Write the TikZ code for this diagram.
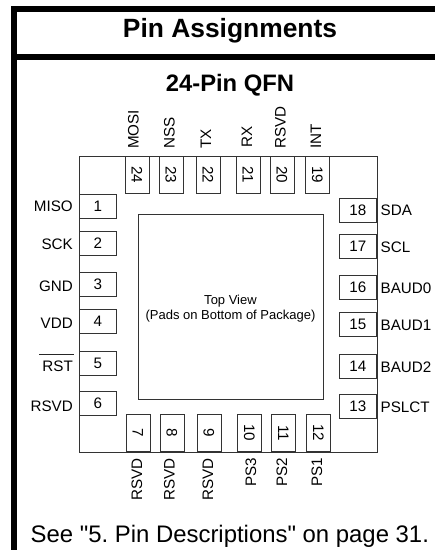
\documentclass[tikz,border=0pt]{standalone}
\usepackage{fontspec}
\setmainfont[Ligatures=TeXOff]{Liberation Sans}
\frenchspacing
\tikzset{
  pinbox/.style={draw=black!80,line width=0.9pt,fill=white,rectangle,inner sep=0pt,anchor=north west,font=\fontsize{15.2}{17}\selectfont},
  hpin/.style={pinbox,minimum width=37pt,minimum height=24pt},
  vpin/.style={pinbox,minimum width=24pt,minimum height=37pt},
  lbl/.style={inner sep=0pt,font=\fontsize{15.2}{17}\selectfont},
  bar/.style={fill=black,draw=none,rectangle,inner sep=0pt,anchor=north west},
}
\newcommand{\hp}[3]{\node[hpin] (p#1) at (#2,#3) {#1};}
\newcommand{\vp}[3]{\node[vpin] (p#1) at (#2,#3) {\rotatebox{-90}{#1}};}
\begin{document}
\begin{tikzpicture}[x=1pt,y=-1pt]
\useasboundingbox (0,0) rectangle (435,550);
\node[bar,minimum width=6pt,minimum height=544pt] (leftbar) at (11,6) {};
\node[bar,minimum width=424pt,minimum height=6pt] (topbar) at (11,6) {};
\node[bar,minimum width=424pt,minimum height=6pt] (midbar) at (11,54) {};
\node[inner sep=0pt,anchor=base,font=\bfseries\fontsize{26.4}{30}\selectfont] (title) at (230,37) {Pin Assignments};
\node[inner sep=0pt,anchor=base,font=\bfseries\fontsize{23.8}{27}\selectfont] (sub) at (230,91) {24-Pin QFN};
\node[draw=black!80,line width=0.9pt,rectangle,inner sep=0pt,anchor=north west,minimum width=297.5pt,minimum height=296pt] (pkg) at (79,155.5) {};
\node[draw=black!80,line width=0.9pt,rectangle,inner sep=0pt,anchor=north west,minimum width=185pt,minimum height=185pt] (die) at (138,214) {};
\node[inner sep=0pt,align=center,font=\fontsize{13}{15.4}\selectfont] (dietext) at (230.5,308.5) {Top View\\(Pads on Bottom of Package)};
% left pins
\hp{1}{79}{194}\hp{2}{79}{231}\hp{3}{79}{272}\hp{4}{79}{309}\hp{5}{79}{351}\hp{6}{79}{391}
% right pins
\hp{18}{339}{197.5}\hp{17}{339}{234}\hp{16}{339}{275}\hp{15}{339}{312}\hp{14}{339}{354}\hp{13}{339}{394}
% top pins
\vp{24}{124.5}{155.5}\vp{23}{158.5}{155.5}\vp{22}{195.5}{155.5}\vp{21}{235.5}{155.5}\vp{20}{269.5}{155.5}\vp{19}{305}{155.5}
% bottom pins
\vp{7}{125.5}{414}\vp{8}{159.5}{414}\vp{9}{196.5}{414}\vp{10}{237}{414}\vp{11}{271}{414}\vp{12}{306}{414}
% left labels
\node[lbl,anchor=east] (l1) at (73,206.5) {MISO};
\node[lbl,anchor=east] (l2) at (73,244) {SCK};
\node[lbl,anchor=east] (l3) at (73,286) {GND};
\node[lbl,anchor=east] (l4) at (73,323) {VDD};
\node[lbl,anchor=east] (l5) at (73,366) {RST};
\draw[line width=0.9pt,black!85] (39,354.3) -- (74,354.3);
\node[lbl,anchor=east] (l6) at (73,406) {RSVD};
% right labels
\node[lbl,anchor=west] (l18) at (380.5,210) {SDA};
\node[lbl,anchor=west] (l17) at (380.5,247) {SCL};
\node[lbl,anchor=west] (l16) at (380.5,288) {BAUD0};
\node[lbl,anchor=west] (l15) at (380.5,325) {BAUD1};
\node[lbl,anchor=west] (l14) at (380.5,367) {BAUD2};
\node[lbl,anchor=west] (l13) at (380.5,407) {PSLCT};
% top labels
\node[lbl,rotate=90,anchor=west] (l24) at (133.5,149) {MOSI};
\node[lbl,rotate=90,anchor=west] (l23) at (169.5,149) {NSS};
\node[lbl,rotate=90,anchor=west] (l22) at (206,149) {TX};
\node[lbl,rotate=90,anchor=west] (l21) at (247,148) {RX};
\node[lbl,rotate=90,anchor=west] (l20) at (280.5,148.5) {RSVD};
\node[lbl,rotate=90,anchor=west] (l19) at (316,148.5) {INT};
% bottom labels
\node[lbl,rotate=90,anchor=east] (l7) at (137,458) {RSVD};
\node[lbl,rotate=90,anchor=east] (l8) at (169.5,458) {RSVD};
\node[lbl,rotate=90,anchor=east] (l9) at (208,458) {RSVD};
\node[lbl,rotate=90,anchor=east] (l10) at (251,458) {PS3};
\node[lbl,rotate=90,anchor=east] (l11) at (282,458) {PS2};
\node[lbl,rotate=90,anchor=east] (l12) at (317,458) {PS1};
\node[inner sep=0pt,anchor=base west,font=\fontsize{23.9}{26}\selectfont] (note) at (30.5,542) {See "5. Pin Descriptions" on page 31.};
\end{tikzpicture}
\end{document}
